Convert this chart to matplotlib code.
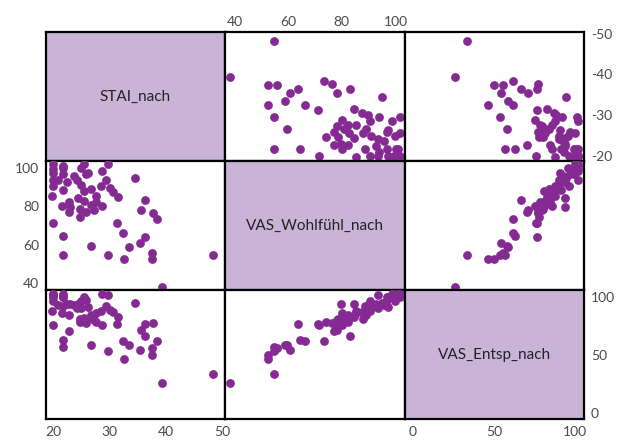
import matplotlib.pyplot as plt

plt.rcParams['font.family'] = ['Lato', 'DejaVu Sans']
plt.rcParams['axes.unicode_minus'] = False

names = ['STAI_nach', 'VAS_Wohlfühl_nach', 'VAS_Entsp_nach']

stai = [39.3, 37.4, 32.5, 48.3, 29.6, 21.7, 37.4, 33.4, 26.6, 35.4, 36.3, 21.7,
        32.4, 31.3, 19.9, 38.4, 24.7, 37.6, 25.8, 22.7, 35.5, 27.2, 24.7, 23.0,
        28.7, 21.6, 26.6, 22.7, 27.6, 25.5, 36.3, 24.4, 31.5, 27.6, 19.8, 25.5,
        30.6, 21.7, 26.6, 30.1, 28.5, 19.9, 24.9, 22.4, 24.2, 19.9, 29.4, 20.9,
        34.4, 23.7, 25.8, 21.7, 26.2, 19.9, 28.6, 19.9, 24.9, 21.7, 21.7, 29.6,
        25.5, 19.9]
wohl = [38.2, 52.4, 52.6, 54.9, 54.9, 54.9, 55.9, 58.8, 59.6, 60.8, 63.8, 64.5,
        66.3, 71.2, 71.5, 73.3, 74.2, 76.5, 76.9, 76.9, 78.2, 78.2, 78.4, 79.7,
        79.9, 80.2, 80.9, 82.4, 82.4, 82.7, 83.0, 84.4, 84.6, 85.1, 85.1, 87.9,
        87.6, 88.6, 88.9, 89.6, 90.6, 90.6, 90.8, 92.8, 93.6, 93.6, 93.8, 93.8,
        94.8, 95.6, 96.8, 96.8, 97.3, 97.3, 98.5, 99.5, 99.8, 100.0, 101.0, 101.8,
        101.8, 101.8]
entsp = [26.0, 50.0, 46.5, 33.3, 53.7, 56.8, 55.8, 58.5, 58.2, 54.2, 76.5, 62.8,
         62.0, 76.8, 76.0, 61.7, 78.0, 77.3, 77.1, 70.5, 71.4, 79.7, 80.5, 93.7,
         75.7, 85.7, 81.7, 84.5, 78.5, 81.7, 66.5, 93.7, 82.9, 86.0, 88.0, 81.1,
         87.0, 91.7, 84.0, 88.2, 88.0, 96.5, 90.0, 93.7, 90.3, 101.7, 91.9, 93.1,
         94.6, 93.0, 97.1, 99.4, 90.8, 100.0, 102.0, 102.3, 96.0, 100.0, 102.0, 101.4,
         100.0, 102.0]

# STAI is drawn negated on the vertical axis (labels -50 ... -20)
xdata = [stai, wohl, entsp]
ydata = [[-v for v in stai], wohl, entsp]
xlims = [(18.7, 50.4), (36.5, 103.5), (-4.9, 105.7)]
ylims = [(-18.7, -50.4), (36.5, 103.5), (-4.9, 105.7)]

xticks = {0: [20, 30, 40, 50], 1: [40, 60, 80, 100], 2: [0, 50, 100]}
yticks = {0: [-50, -40, -30, -20], 1: [40, 60, 80, 100], 2: [0, 50, 100]}

W, H = 626, 441
xe = [46, 225, 405, 584]
ye = [32, 161, 290, 419]

point_col = '#862a93'
diag_col = '#c9b4d7'
tick_col = '#4a4a4a'

fig = plt.figure(figsize=(W / 100, H / 100), dpi=100)

for r in range(3):
    for c in range(3):
        ax = fig.add_axes([xe[c] / W, 1 - ye[r + 1] / H,
                           (xe[c + 1] - xe[c]) / W, (ye[r + 1] - ye[r]) / H])
        ax.set_xlim(*xlims[c])
        ax.set_ylim(*ylims[r])
        if r == c:
            ax.set_facecolor(diag_col)
            ax.text(0.5, 0.5, names[r], transform=ax.transAxes, ha='center',
                    va='center', fontsize=11, color='#222222')
        else:
            ax.scatter(xdata[c], ydata[r], s=40, color=point_col, linewidths=0,
                       zorder=3)
        for sp in ax.spines.values():
            sp.set_linewidth(1.6)
            sp.set_color('black')
        ax.set_xticks([])
        ax.set_yticks([])
        ax.tick_params(length=0, labelsize=10, labelcolor=tick_col)

        # x labels alternate bottom / top
        if r == 2 and c in (0, 2):
            ax.set_xticks(xticks[c])
            ax.tick_params(axis='x', pad=5)
        if r == 0 and c == 1:
            ax.set_xticks(xticks[c])
            ax.xaxis.tick_top()
            ax.tick_params(axis='x', pad=3, length=0)
        # y labels alternate right / left
        if c == 2 and r in (0, 2):
            ax.set_yticks(yticks[r])
            ax.yaxis.tick_right()
            ax.tick_params(axis='y', pad=5, length=0)
        if c == 0 and r == 1:
            ax.set_yticks(yticks[r])
            ax.tick_params(axis='y', pad=5)

fig.savefig('out.png', dpi=100)
